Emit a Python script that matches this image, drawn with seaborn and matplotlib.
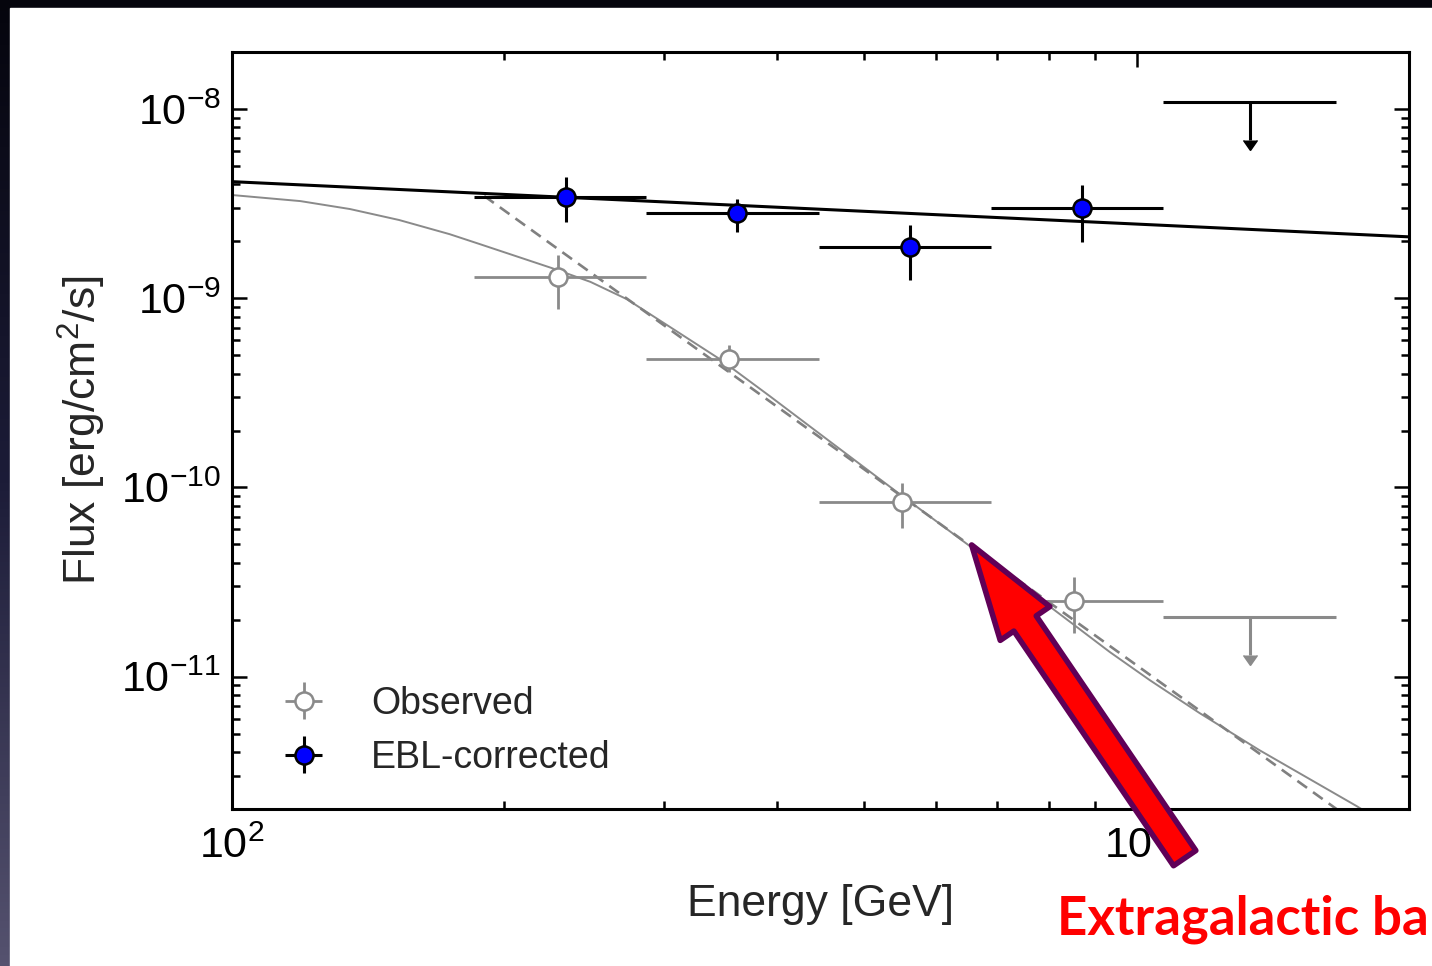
import numpy as np
import matplotlib
matplotlib.use("Agg")
import matplotlib.pyplot as plt
import seaborn as sns
from matplotlib.colors import LinearSegmentedColormap
from matplotlib.patches import Rectangle, FancyArrowPatch

# --- data ---
# EBL-corrected points (energy in GeV, flux in erg/cm2/s)
ebl_E = [234, 362, 561, 869]
ebl_Elo = [185, 287, 445, 690]
ebl_Ehi = [287, 445, 690, 1070]
ebl_F = [3.43e-9, 2.82e-9, 1.86e-9, 3.0e-9]
ebl_Fhi = [4.37e-9, 3.34e-9, 2.44e-9, 3.96e-9]
ebl_Flo = [2.53e-9, 2.24e-9, 1.25e-9, 1.98e-9]

# observed points
obs_E = [229, 354, 550, 852]
obs_Elo = [185, 287, 445, 690]
obs_Ehi = [287, 445, 690, 1070]
obs_F = [1.29e-9, 4.77e-10, 8.40e-11, 2.51e-11]
obs_Fhi = [1.69e-9, 5.66e-10, 1.06e-10, 3.36e-11]
obs_Flo = [8.77e-10, 4.07e-10, 6.10e-11, 1.70e-11]

# upper limits in the last bin
ul_E = [1333]
ul_Elo = [1070]
ul_Ehi = [1660]
ebl_ul = [1.09e-8]
obs_ul = [2.06e-11]

# model curves
intrinsic_E = [100, 2000]
intrinsic_F = [4.13e-9, 2.11e-9]
plfit_E = [190, 2000]
plfit_F = [3.47e-9, 1.06e-12]
absorbed_E = [100, 119, 135, 153, 174, 188, 226, 249, 273, 305, 346, 393, 447,
              547, 654, 850, 934, 1034, 1174, 1367, 1751, 2000]
absorbed_F = [3.51e-9, 3.26e-9, 2.96e-9, 2.59e-9, 2.18e-9, 1.93e-9, 1.44e-9,
              1.22e-9, 9.90e-10, 7.04e-10, 4.77e-10, 3.04e-10, 1.91e-10,
              9.23e-11, 4.90e-11, 1.90e-11, 1.35e-11, 9.59e-12, 6.42e-12,
              4.09e-12, 2.07e-12, 1.40e-12]

# where the big red arrow points (tip) and starts (tail)
arrow_tip = (657, 4.97e-11)
arrow_tail = (1130, 1.10e-12)

sns.set_theme(style="ticks")
plt.rcParams['font.family'] = ['Liberation Sans', 'DejaVu Sans']
plt.rcParams['mathtext.fontset'] = 'custom'
plt.rcParams['mathtext.rm'] = 'Liberation Sans'

W, H = 1432, 966
fig = plt.figure(figsize=(W / 100, H / 100), dpi=100)

# dark slide background with white panel
bg = fig.add_axes([0, 0, 1, 1], zorder=-10)
cmap = LinearSegmentedColormap.from_list('bg', ['#05050d', '#1c1c38', '#55526f'])
bg.imshow(np.linspace(0, 1, 256).reshape(-1, 1), aspect='auto', cmap=cmap,
          extent=[0, 1, 0, 1], origin='upper')
bg.add_patch(Rectangle((10 / W, 0), 1, 1 - 8 / H, color='white'))
bg.set_xlim(0, 1)
bg.set_ylim(0, 1)
bg.set_xticks([])
bg.set_yticks([])
bg.axis('off')

ax = fig.add_axes([232 / W, (H - 809) / H, (1409 - 232) / W, (809 - 52) / H])
ax.set_facecolor('white')
ax.set_xscale('log')
ax.set_yscale('log')

grey = '#8a8a8a'

# model lines
sns.lineplot(x=intrinsic_E, y=intrinsic_F, ax=ax, color='black', lw=2.2,
             estimator=None, sort=False, zorder=2)
sns.lineplot(x=absorbed_E, y=absorbed_F, ax=ax, color=grey, lw=1.4,
             estimator=None, sort=False, zorder=2)
sns.lineplot(x=plfit_E, y=plfit_F, ax=ax, color='#808080', lw=1.9,
             estimator=None, sort=False, zorder=2, linestyle=(0, (4.5, 2.8)))

# data points
def asym(c, lo, hi):
    c = np.array(c)
    return [c - np.array(lo), np.array(hi) - c]

h_obs = ax.errorbar(obs_E, obs_F, xerr=asym(obs_E, obs_Elo, obs_Ehi),
                    yerr=asym(obs_F, obs_Flo, obs_Fhi), fmt='o', ms=13,
                    mfc='white', mec=grey, mew=1.8, ecolor=grey, elinewidth=2.0,
                    capsize=0, zorder=3, label='Observed')
h_ebl = ax.errorbar(ebl_E, ebl_F, xerr=asym(ebl_E, ebl_Elo, ebl_Ehi),
                    yerr=asym(ebl_F, ebl_Flo, ebl_Fhi), fmt='o', ms=13,
                    mfc='#0000ff', mec='black', mew=1.8, ecolor='black',
                    elinewidth=2.2, capsize=0, zorder=4, label='EBL-corrected')

# upper limits: horizontal bin bar plus a downward arrow
arrow_frac = 0.63
for val, col in [(ebl_ul, 'black'), (obs_ul, grey)]:
    ax.errorbar(ul_E, val, xerr=asym(ul_E, ul_Elo, ul_Ehi), fmt='none',
                ecolor=col, elinewidth=2.2, capsize=0, zorder=3)
    ax.vlines(ul_E, np.array(val) * arrow_frac, val, color=col, lw=2.2, zorder=3)
    ax.plot(ul_E, np.array(val) * arrow_frac, ls='none', marker=11, ms=10,
            color=col, zorder=3)

ax.set_xlim(100, 2000)
ax.set_ylim(2e-12, 2e-8)

ax.tick_params(which='both', direction='in', top=True, right=True,
               labelsize=31, width=1.8, colors='black')
ax.tick_params(which='major', length=11, pad=8)
ax.tick_params(axis='x', which='major', pad=13)
ax.tick_params(which='minor', length=6)
ax.xaxis.set_minor_formatter(plt.NullFormatter())
ax.yaxis.set_minor_formatter(plt.NullFormatter())
for s in ax.spines.values():
    s.set_linewidth(2.2)
    s.set_color('black')

ax.set_xlabel('Energy [GeV]', fontsize=32, labelpad=12)
ax.set_ylabel(r'Flux [erg/cm$\mathdefault{^2}$/s]', fontsize=32, labelpad=9)

ax.legend(handles=[h_obs, h_ebl], loc='lower left', frameon=False,
          fontsize=27, handlelength=1.0, handletextpad=1.3, labelspacing=0.48,
          bbox_to_anchor=(0.045, 0.044), borderaxespad=0, borderpad=0)

# big red annotation arrow
arr = FancyArrowPatch(posA=arrow_tail, posB=arrow_tip, transform=ax.transData,
                      arrowstyle='simple,head_length=9.5,head_width=6.0,tail_width=2.7',
                      mutation_scale=7.2, shrinkA=0, shrinkB=0,
                      fc='#ff0000', ec='#600057', lw=4.0, clip_on=False, zorder=10)
ax.add_patch(arr)

fig.text(1057 / W, (H - 935) / H, 'Extragalactic ba', color='#ff0000',
         fontsize=38, fontweight='bold', family=['Lato', 'DejaVu Sans'],
         ha='left', va='baseline')

fig.savefig('out.png', dpi=100)
